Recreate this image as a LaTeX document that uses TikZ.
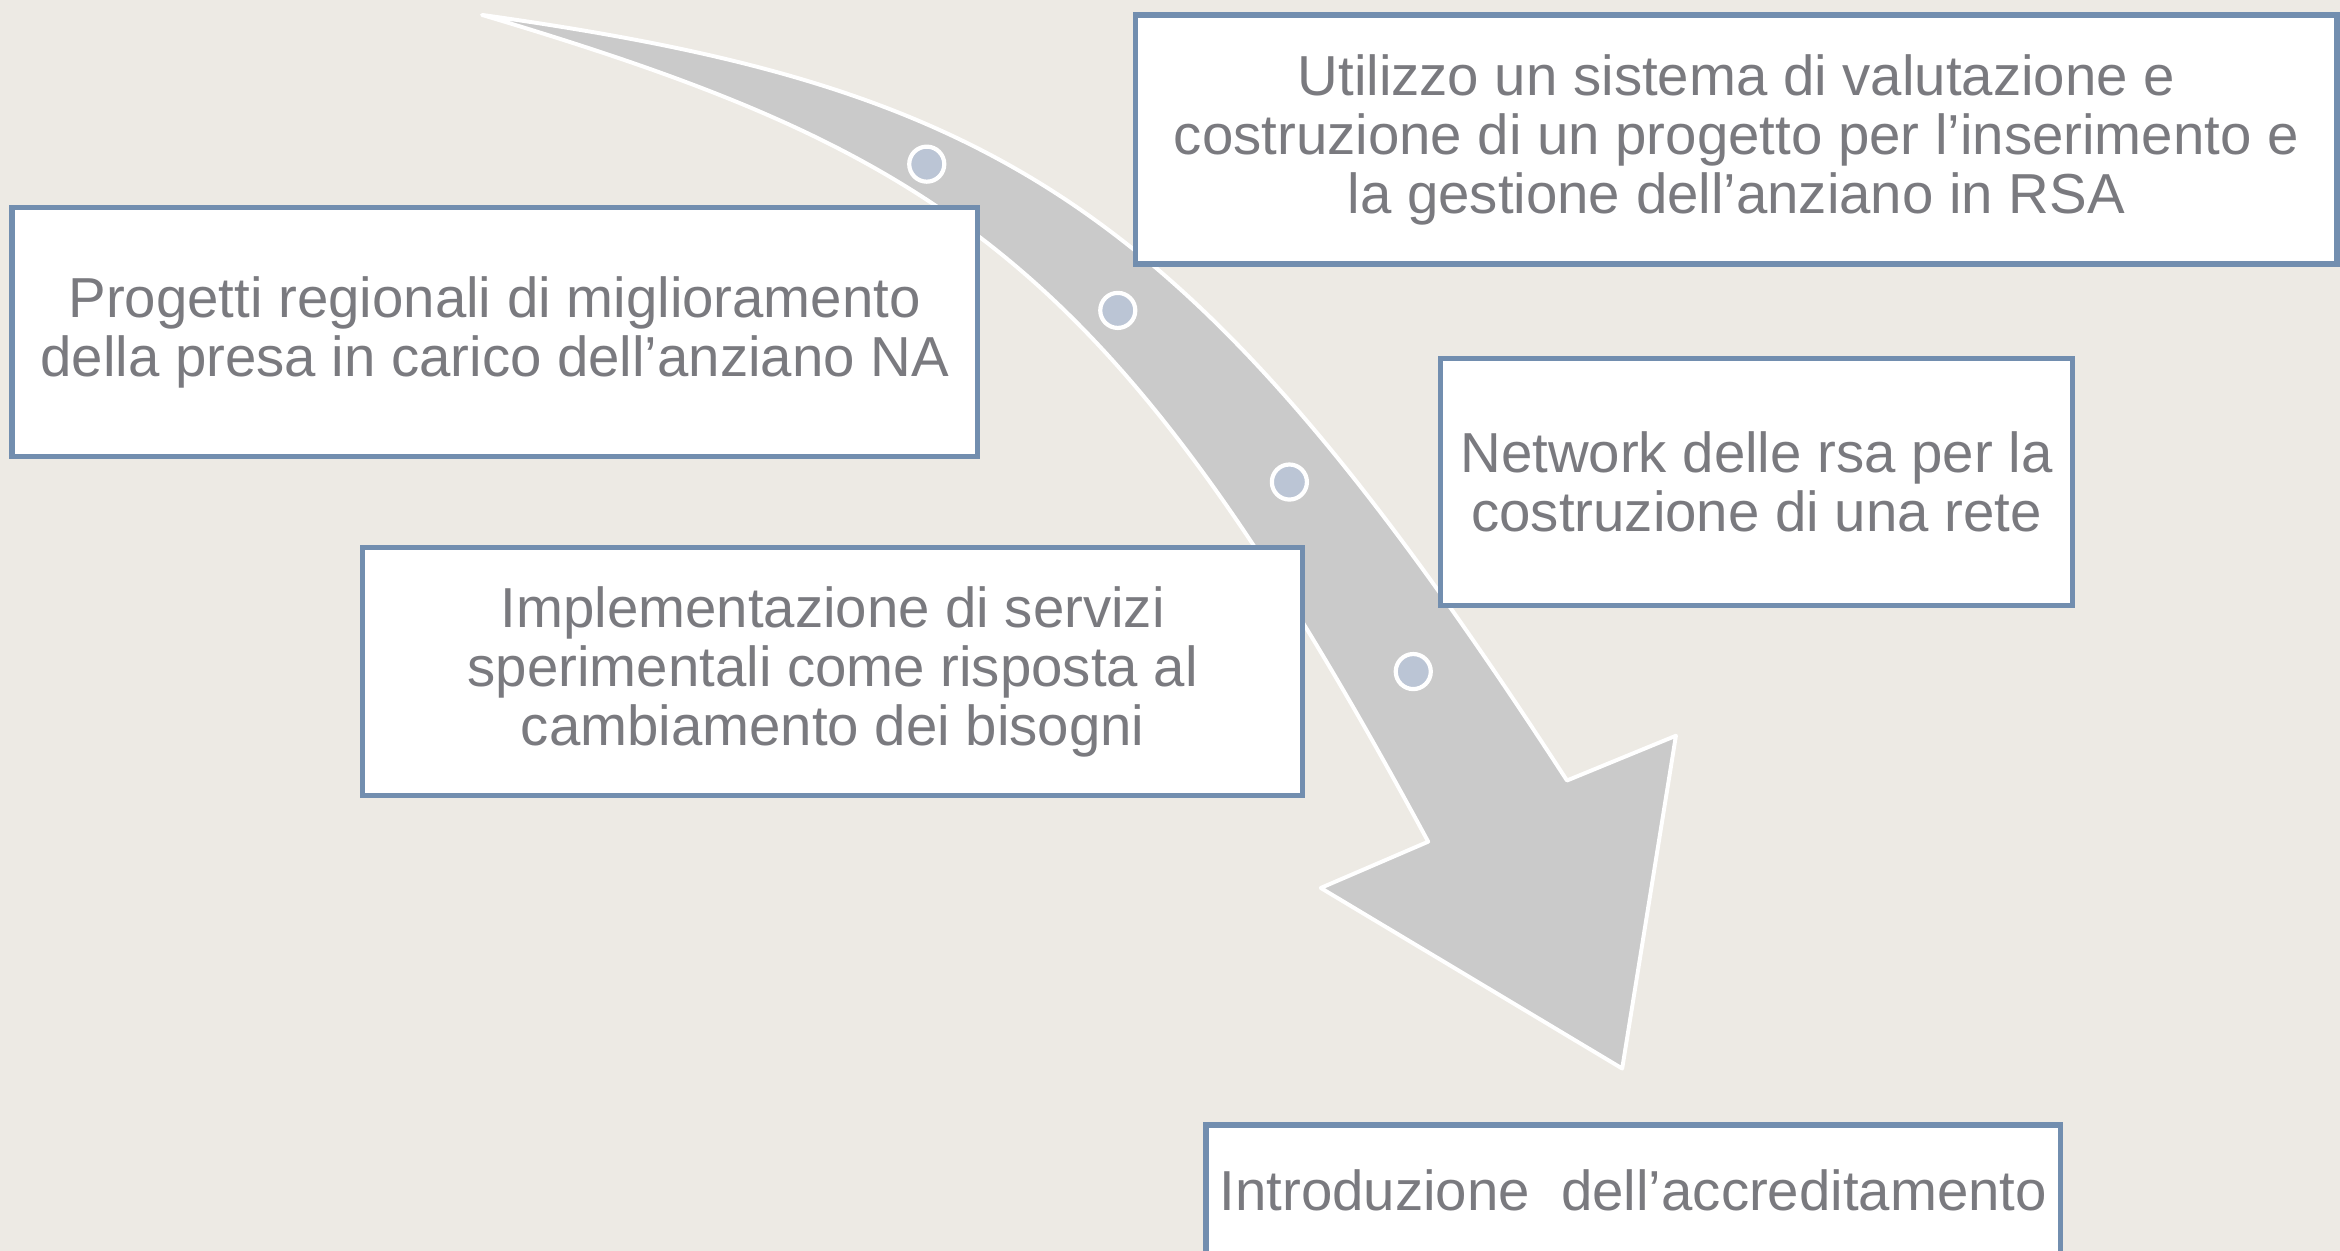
\documentclass[tikz,border=0pt]{standalone}
\usepackage{fontspec}
\setmainfont{Liberation Sans}
\definecolor{bgcol}{RGB}{237,234,228}
\definecolor{boxline}{RGB}{114,142,175}
\definecolor{arrowcol}{RGB}{202,202,202}
\definecolor{dotcol}{RGB}{187,197,213}
\definecolor{txtcol}{RGB}{122,122,127}
\tikzset{
  stagebox/.style={draw=boxline, line width=2pt, fill=white, align=center,
    text=txtcol, inner sep=0pt,
    font=\fontsize{21.5}{22.5}\selectfont},
  stagedot/.style={circle, fill=dotcol, draw=white, line width=1.6pt,
    minimum size=0.47cm, inner sep=0pt}
}
\begin{document}
\begin{tikzpicture}[x=0.02cm, y=-0.02cm]
\useasboundingbox (0,0) rectangle (1568,838);
\fill[bgcol] (0,0) rectangle (1568,838);
% curved arrow
\filldraw[fill=arrowcol, draw=white, line width=1.5pt, line join=round]
  (323,10) .. controls (673,59) and (800,138) .. (1050,523)
  -- (1123,493) -- (1087,716) -- (885,595) -- (957,564)
  .. controls (749,179) and (638,104) .. (323,10)
  -- cycle;
% stage dots
\node[stagedot] (d1) at (621,110) {};
\node[stagedot] (d2) at (749,208) {};
\node[stagedot] (d3) at (864,323) {};
\node[stagedot] (d4) at (947,450) {};
% boxes
\node[stagebox, minimum width=12.94cm, minimum height=3.34cm] (b1) at (331.5,222.5)
  {Progetti regionali di miglioramento\\della presa in carico dell’anziano NA};
\node[stagebox, minimum width=16.1cm, minimum height=3.34cm] (b2) at (1163.5,93.5)
  {Utilizzo un sistema di valutazione e\\costruzione di un progetto per l’inserimento e\\la gestione dell’anziano in RSA};
\node[stagebox, minimum width=8.48cm, minimum height=3.32cm] (b3) at (1177,323)
  {Network delle rsa per la\\costruzione di una rete};
\node[stagebox, minimum width=12.6cm, minimum height=3.32cm] (b4) at (558,450)
  {Implementazione di servizi\\sperimentali come risposta al\\cambiamento dei bisogni};
\node[stagebox, minimum width=11.46cm, anchor=north, inner ysep=0.6cm, text depth=2cm] (b5) at (1094.5,752)
  {Introduzione\ \ dell’accreditamento};
\end{tikzpicture}
\end{document}
